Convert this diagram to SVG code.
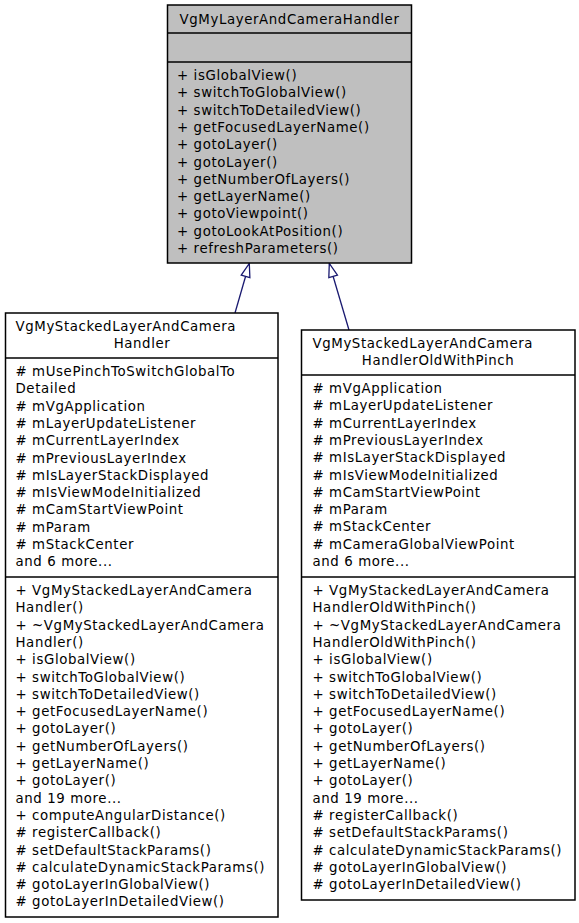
<svg xmlns="http://www.w3.org/2000/svg" width="579" height="923" viewBox="0 0 579 923">
<style>
.t{font-family:"DejaVu Sans","Liberation Sans",sans-serif;font-size:13.33px;letter-spacing:0.6px;fill:#000}
.m{text-anchor:middle}
.box{fill:#fff;stroke:#000;stroke-width:1.5}
.base{fill:#bfbfbf;stroke:#000;stroke-width:1.5}
.sep{stroke:#000;stroke-width:1.5}
.edge{fill:none;stroke:#191970;stroke-width:1.3}
</style>
<defs>
<marker id="inh" markerUnits="userSpaceOnUse" viewBox="0 0 14 10" refX="14" refY="5" markerWidth="14" markerHeight="10" orient="auto" overflow="visible">
<path d="M0.5,0.5 L14,5 L0.5,9.5 Z" fill="#fff" stroke="#191970" stroke-width="1.3"/>
</marker>
</defs>
<rect width="579" height="923" fill="#fff"/>
<g id="connectors">
<path class="edge" d="M235,313 L249.3,263.5" marker-end="url(#inh)"/>
<path class="edge" d="M349,330 L329.3,263.5" marker-end="url(#inh)"/>
</g>
<g id="VgMyLayerAndCameraHandler">
<rect class="base" x="167.5" y="5" width="244" height="258"/>
<line class="sep" x1="167.5" y1="33" x2="411.5" y2="33"/>
<line class="sep" x1="167.5" y1="62" x2="411.5" y2="62"/>
<text class="t m" x="289.5" y="24">VgMyLayerAndCameraHandler</text>
<text class="t" x="177" y="80">+ isGlobalView()<tspan x="177" dy="17.3">+ switchToGlobalView()</tspan><tspan x="177" dy="17.3">+ switchToDetailedView()</tspan><tspan x="177" dy="17.3">+ getFocusedLayerName()</tspan><tspan x="177" dy="17.3">+ gotoLayer()</tspan><tspan x="177" dy="17.3">+ gotoLayer()</tspan><tspan x="177" dy="17.3">+ getNumberOfLayers()</tspan><tspan x="177" dy="17.3">+ getLayerName()</tspan><tspan x="177" dy="17.3">+ gotoViewpoint()</tspan><tspan x="177" dy="17.3">+ gotoLookAtPosition()</tspan><tspan x="177" dy="17.3">+ refreshParameters()</tspan></text>
</g>
<g id="VgMyStackedLayerAndCameraHandler">
<rect class="box" x="5.5" y="313" width="272.5" height="604"/>
<line class="sep" x1="5.5" y1="358" x2="278" y2="358"/>
<line class="sep" x1="5.5" y1="577" x2="278" y2="577"/>
<text class="t" x="15.5" y="331">VgMyStackedLayerAndCamera</text>
<text class="t m" x="142" y="348.3">Handler</text>
<text class="t" x="15.5" y="376"># mUsePinchToSwitchGlobalTo<tspan x="15.5" dy="17.3">Detailed</tspan><tspan x="15.5" dy="17.3"># mVgApplication</tspan><tspan x="15.5" dy="17.3"># mLayerUpdateListener</tspan><tspan x="15.5" dy="17.3"># mCurrentLayerIndex</tspan><tspan x="15.5" dy="17.3"># mPreviousLayerIndex</tspan><tspan x="15.5" dy="17.3"># mIsLayerStackDisplayed</tspan><tspan x="15.5" dy="17.3"># mIsViewModeInitialized</tspan><tspan x="15.5" dy="17.3"># mCamStartViewPoint</tspan><tspan x="15.5" dy="17.3"># mParam</tspan><tspan x="15.5" dy="17.3"># mStackCenter</tspan><tspan x="15.5" dy="17.3">and 6 more...</tspan></text>
<text class="t" x="15.5" y="595">+ VgMyStackedLayerAndCamera<tspan x="15.5" dy="17.3">Handler()</tspan><tspan x="15.5" dy="17.3">+ ~VgMyStackedLayerAndCamera</tspan><tspan x="15.5" dy="17.3">Handler()</tspan><tspan x="15.5" dy="17.3">+ isGlobalView()</tspan><tspan x="15.5" dy="17.3">+ switchToGlobalView()</tspan><tspan x="15.5" dy="17.3">+ switchToDetailedView()</tspan><tspan x="15.5" dy="17.3">+ getFocusedLayerName()</tspan><tspan x="15.5" dy="17.3">+ gotoLayer()</tspan><tspan x="15.5" dy="17.3">+ getNumberOfLayers()</tspan><tspan x="15.5" dy="17.3">+ getLayerName()</tspan><tspan x="15.5" dy="17.3">+ gotoLayer()</tspan><tspan x="15.5" dy="17.3">and 19 more...</tspan><tspan x="15.5" dy="17.3">+ computeAngularDistance()</tspan><tspan x="15.5" dy="17.3"># registerCallback()</tspan><tspan x="15.5" dy="17.3"># setDefaultStackParams()</tspan><tspan x="15.5" dy="17.3"># calculateDynamicStackParams()</tspan><tspan x="15.5" dy="17.3"># gotoLayerInGlobalView()</tspan><tspan x="15.5" dy="17.3"># gotoLayerInDetailedView()</tspan></text>
</g>
<g id="VgMyStackedLayerAndCameraHandlerOldWithPinch">
<rect class="box" x="301.5" y="330" width="273.5" height="570"/>
<line class="sep" x1="301.5" y1="375" x2="575" y2="375"/>
<line class="sep" x1="301.5" y1="577" x2="575" y2="577"/>
<text class="t" x="312.5" y="348">VgMyStackedLayerAndCamera</text>
<text class="t m" x="438" y="365.3">HandlerOldWithPinch</text>
<text class="t" x="312.5" y="393"># mVgApplication<tspan x="312.5" dy="17.3"># mLayerUpdateListener</tspan><tspan x="312.5" dy="17.3"># mCurrentLayerIndex</tspan><tspan x="312.5" dy="17.3"># mPreviousLayerIndex</tspan><tspan x="312.5" dy="17.3"># mIsLayerStackDisplayed</tspan><tspan x="312.5" dy="17.3"># mIsViewModeInitialized</tspan><tspan x="312.5" dy="17.3"># mCamStartViewPoint</tspan><tspan x="312.5" dy="17.3"># mParam</tspan><tspan x="312.5" dy="17.3"># mStackCenter</tspan><tspan x="312.5" dy="17.3"># mCameraGlobalViewPoint</tspan><tspan x="312.5" dy="17.3">and 6 more...</tspan></text>
<text class="t" x="312.5" y="595">+ VgMyStackedLayerAndCamera<tspan x="312.5" dy="17.3">HandlerOldWithPinch()</tspan><tspan x="312.5" dy="17.3">+ ~VgMyStackedLayerAndCamera</tspan><tspan x="312.5" dy="17.3">HandlerOldWithPinch()</tspan><tspan x="312.5" dy="17.3">+ isGlobalView()</tspan><tspan x="312.5" dy="17.3">+ switchToGlobalView()</tspan><tspan x="312.5" dy="17.3">+ switchToDetailedView()</tspan><tspan x="312.5" dy="17.3">+ getFocusedLayerName()</tspan><tspan x="312.5" dy="17.3">+ gotoLayer()</tspan><tspan x="312.5" dy="17.3">+ getNumberOfLayers()</tspan><tspan x="312.5" dy="17.3">+ getLayerName()</tspan><tspan x="312.5" dy="17.3">+ gotoLayer()</tspan><tspan x="312.5" dy="17.3">and 19 more...</tspan><tspan x="312.5" dy="17.3"># registerCallback()</tspan><tspan x="312.5" dy="17.3"># setDefaultStackParams()</tspan><tspan x="312.5" dy="17.3"># calculateDynamicStackParams()</tspan><tspan x="312.5" dy="17.3"># gotoLayerInGlobalView()</tspan><tspan x="312.5" dy="17.3"># gotoLayerInDetailedView()</tspan></text>
</g>
</svg>
